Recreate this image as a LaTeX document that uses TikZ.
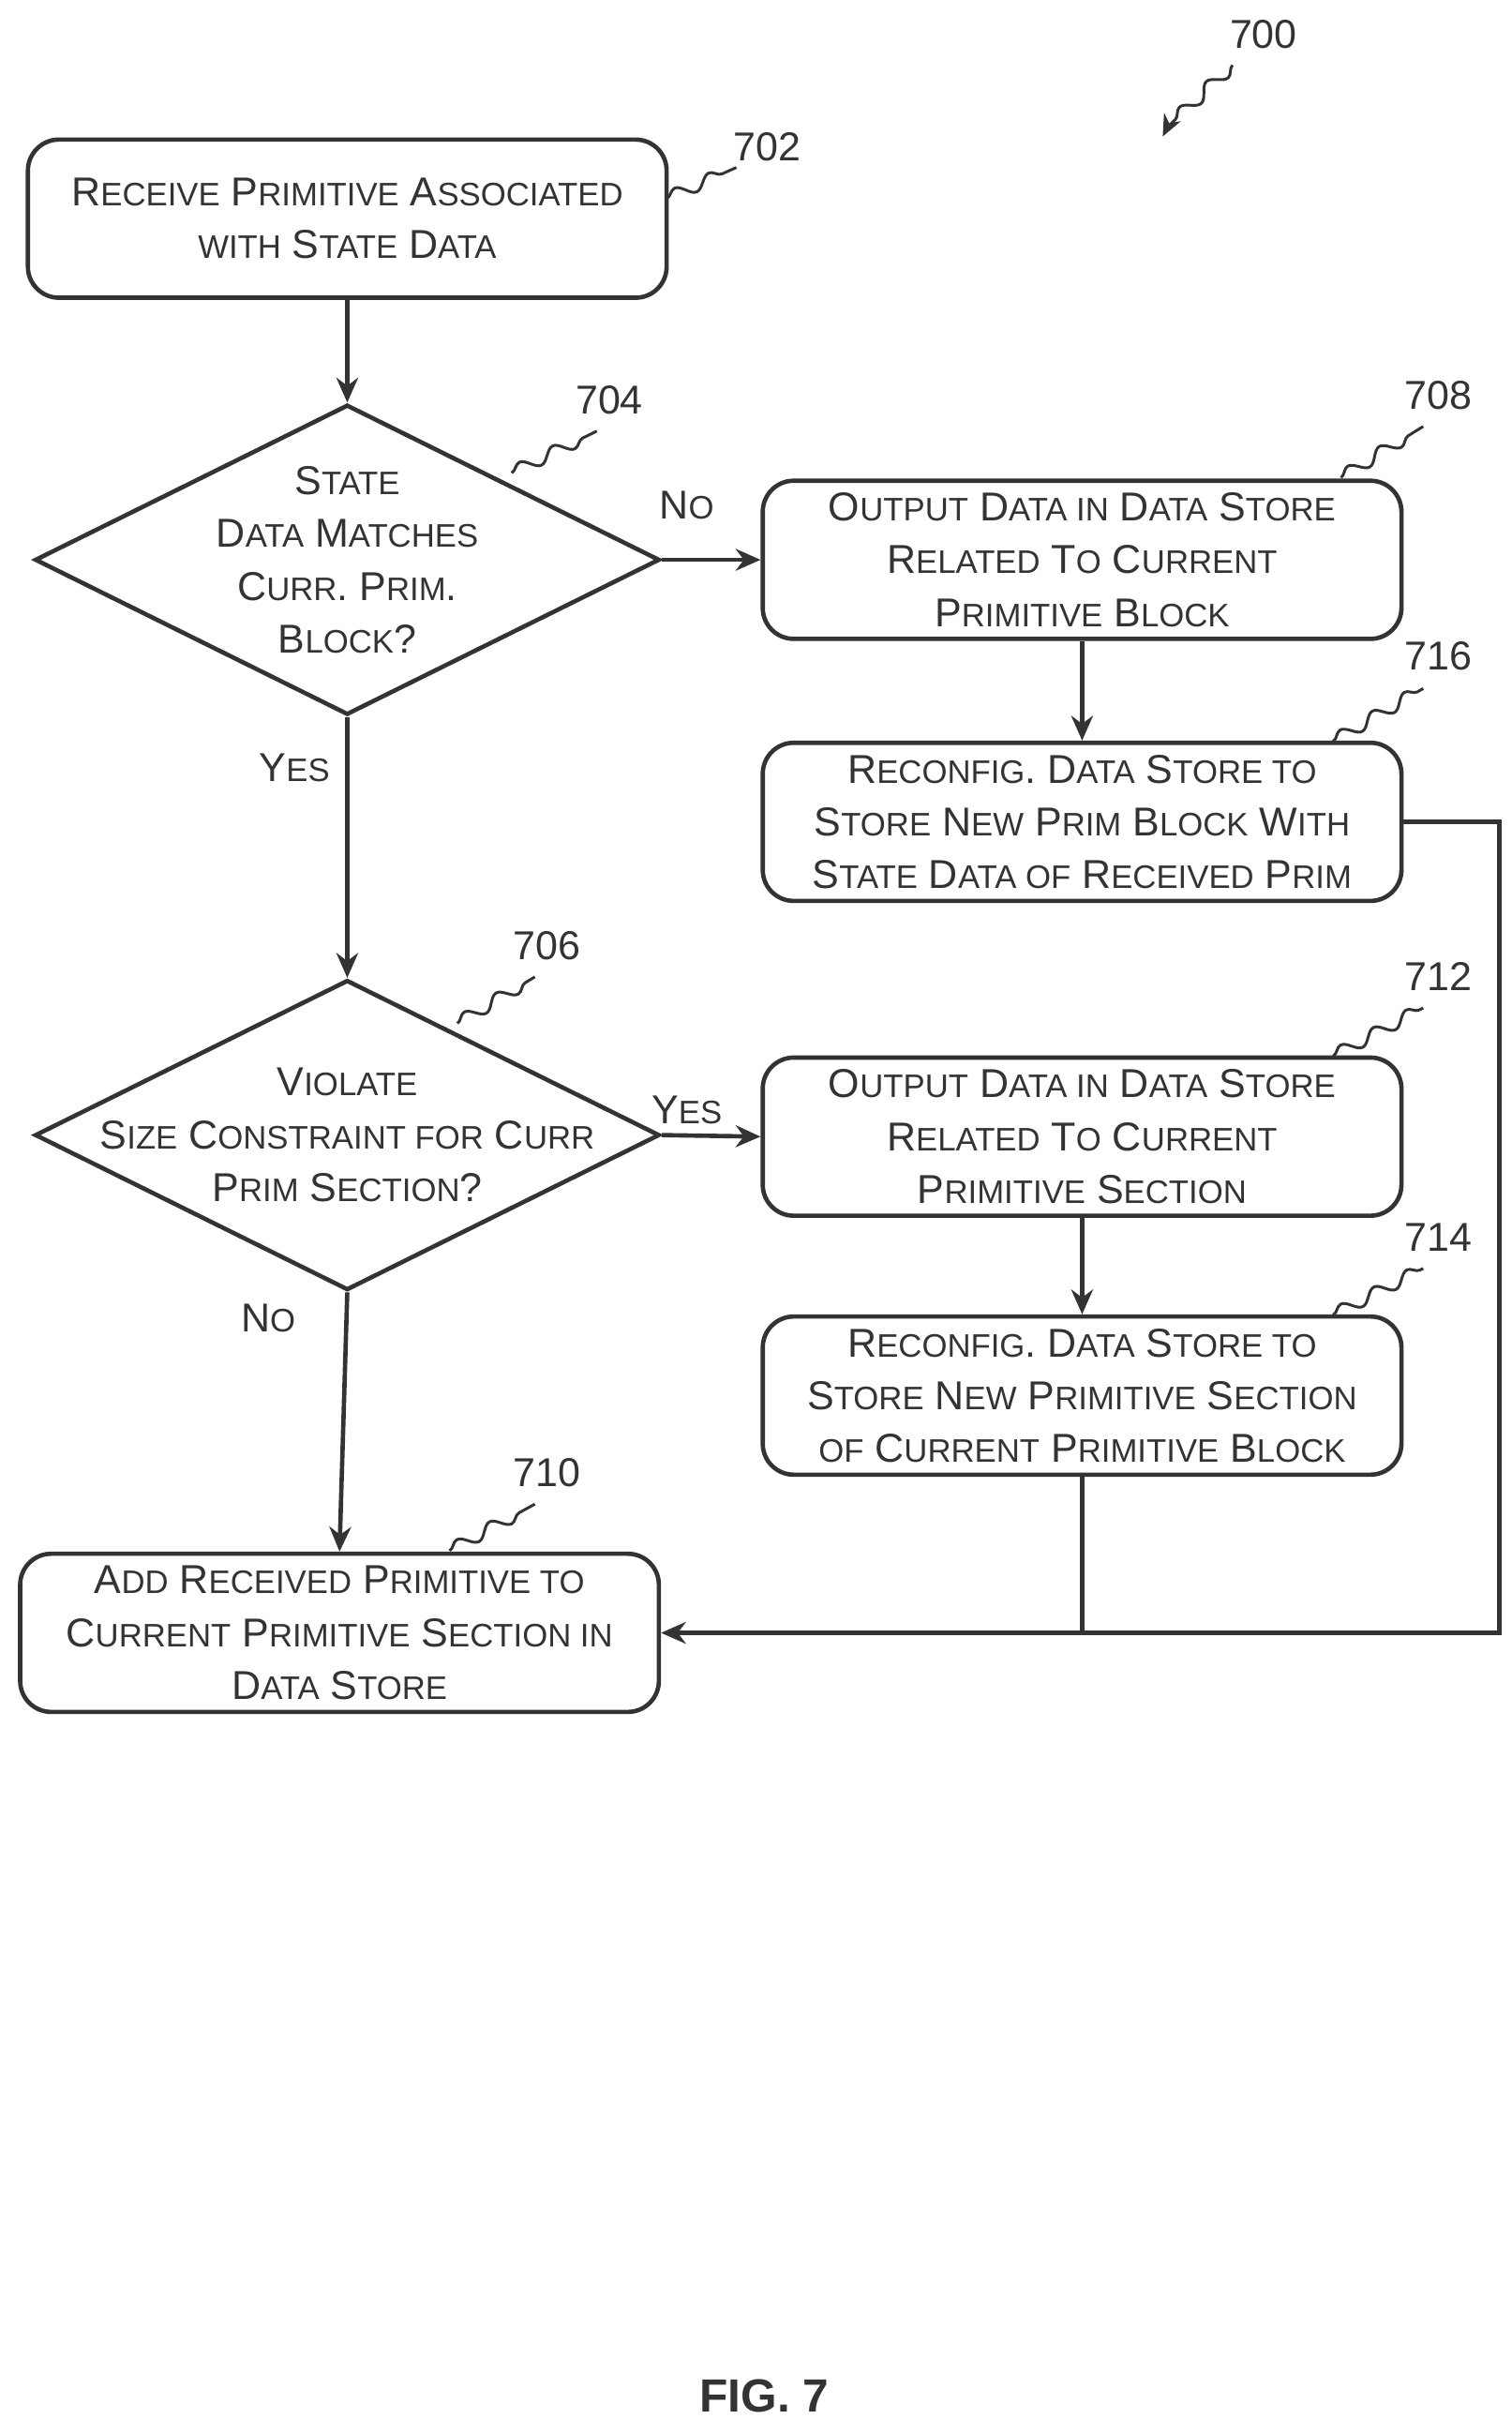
\documentclass[tikz,border=0pt]{standalone}
\usepackage{fontspec}
\setmainfont{Liberation Sans}
\usetikzlibrary{shapes.geometric,decorations.pathmorphing,arrows.meta,calc}
\newcommand\sm[1]{{\fontsize{10.5}{12}\selectfont #1}}
\definecolor{ink}{HTML}{333333}
\begin{document}
\begin{tikzpicture}[x=0.5pt,y=-0.5pt,
  every node/.style={text=ink},
  box/.style={draw=ink,line width=1.4pt,rounded corners=10pt,minimum width=206pt,minimum height=51pt,align=center,font=\fontsize{13}{17}\selectfont,inner sep=0pt},
  dia/.style={draw=ink,line width=1.4pt,diamond,minimum width=201.5pt,minimum height=100pt,inner sep=0pt},
  dtext/.style={align=center,font=\fontsize{13}{17}\selectfont},
  lbl/.style={font=\fontsize{13}{15}\selectfont},
  conn/.style={draw=ink,line width=1.4pt,-{Stealth[length=8pt,width=7pt]}},
  line/.style={draw=ink,line width=1.4pt},
  sq/.style={draw=ink,line width=0.9pt,decorate,decoration={snake,segment length=12pt,amplitude=2pt}}]
\useasboundingbox (0,0) rectangle (975,1560);
\node[box] (b702) at (224,141) {R\sm{ECEIVE} P\sm{RIMITIVE} A\sm{SSOCIATED}\\\sm{WITH} S\sm{TATE} D\sm{ATA}};
\node[dia] (d704) at (224,361) {};
\node[dtext] at (224,361) {S\sm{TATE}\\D\sm{ATA} M\sm{ATCHES}\\C\sm{URR}. P\sm{RIM}.\\B\sm{LOCK}?};
\node[box] (b708) at (698,361) {O\sm{UTPUT} D\sm{ATA IN} D\sm{ATA} S\sm{TORE}\\R\sm{ELATED} T\sm{O} C\sm{URRENT}\\P\sm{RIMITIVE} B\sm{LOCK}};
\node[box] (b716) at (698,530) {R\sm{ECONFIG}. D\sm{ATA} S\sm{TORE TO}\\S\sm{TORE} N\sm{EW} P\sm{RIM} B\sm{LOCK} W\sm{ITH}\\S\sm{TATE} D\sm{ATA OF} R\sm{ECEIVED} P\sm{RIM}};
\node[dia] (d706) at (224,732) {};
\node[dtext] at (224,732) {V\sm{IOLATE}\\S\sm{IZE} C\sm{ONSTRAINT FOR} C\sm{URR}\\P\sm{RIM} S\sm{ECTION}?};
\node[box] (b712) at (698,733) {O\sm{UTPUT} D\sm{ATA IN} D\sm{ATA} S\sm{TORE}\\R\sm{ELATED} T\sm{O} C\sm{URRENT}\\P\sm{RIMITIVE} S\sm{ECTION}};
\node[box] (b714) at (698,900) {R\sm{ECONFIG}. D\sm{ATA} S\sm{TORE TO}\\S\sm{TORE} N\sm{EW} P\sm{RIMITIVE} S\sm{ECTION}\\\sm{OF} C\sm{URRENT} P\sm{RIMITIVE} B\sm{LOCK}};
\node[box] (b710) at (219,1053) {A\sm{DD} R\sm{ECEIVED} P\sm{RIMITIVE TO}\\C\sm{URRENT} P\sm{RIMITIVE} S\sm{ECTION IN}\\D\sm{ATA} S\sm{TORE}};
% connectors
\draw[conn] (b702.south) -- (d704.north);
\draw[conn] (d704.east) -- (b708.west);
\draw[conn] (d704.south) -- (d706.north);
\draw[conn] (b708.south) -- (b716.north);
\draw[conn] (d706.east) -- (b712.west);
\draw[conn] (b712.south) -- (b714.north);
\draw[conn] (d706.south) -- (b710.north);
\coordinate (c1) at (967,530);
\coordinate (c2) at (967,1053);
\coordinate (j) at (698,1053);
\draw[conn] (b716.east) -- (c1) -- (c2) -- (b710.east);
\draw[line] (b714.south) -- (j);
% branch labels
\node[lbl] (lno1) at (443,326) {N\sm{O}};
\node[lbl] (lyes1) at (190,495) {Y\sm{ES}};
\node[lbl] (lyes2) at (443,716) {Y\sm{ES}};
\node[lbl] (lno2) at (173,850) {N\sm{O}};
% reference numerals
\node[lbl] (n700) at (815,22) {700};
\node[lbl] (n702) at (495,95) {702};
\node[lbl] (n704) at (393,258) {704};
\node[lbl] (n708) at (928,255) {708};
\node[lbl] (n716) at (928,423) {716};
\node[lbl] (n706) at (353,610) {706};
\node[lbl] (n712) at (928,630) {712};
\node[lbl] (n714) at (928,798) {714};
\node[lbl] (n710) at (353,950) {710};
\coordinate (s700a) at (795,42); \coordinate (s700b) at (750,88);
\coordinate (s700c) at (753,82);
\draw[sq] (s700a) -- (s700c);
\draw[draw=ink,line width=0.9pt,-{Stealth[length=7pt,width=6pt]}] (s700c) -- (s700b);
\coordinate (s702a) at (430,128); \coordinate (s702b) at (475,108);
\draw[sq] (s702a) -- (s702b);
\coordinate (s704a) at (330,305); \coordinate (s704b) at (385,278);
\draw[sq] (s704a) -- (s704b);
\coordinate (s708a) at (865,308); \coordinate (s708b) at (918,275);
\draw[sq] (s708a) -- (s708b);
\coordinate (s716a) at (860,478); \coordinate (s716b) at (918,444);
\draw[sq] (s716a) -- (s716b);
\coordinate (s706a) at (295,660); \coordinate (s706b) at (345,630);
\draw[sq] (s706a) -- (s706b);
\coordinate (s712a) at (860,681); \coordinate (s712b) at (918,650);
\draw[sq] (s712a) -- (s712b);
\coordinate (s714a) at (860,848); \coordinate (s714b) at (918,818);
\draw[sq] (s714a) -- (s714b);
\coordinate (s710a) at (290,1000); \coordinate (s710b) at (345,970);
\draw[sq] (s710a) -- (s710b);
\node[font=\bfseries\fontsize{15}{18}\selectfont] (fig) at (493,1545) {FIG. 7};
\end{tikzpicture}
\end{document}
